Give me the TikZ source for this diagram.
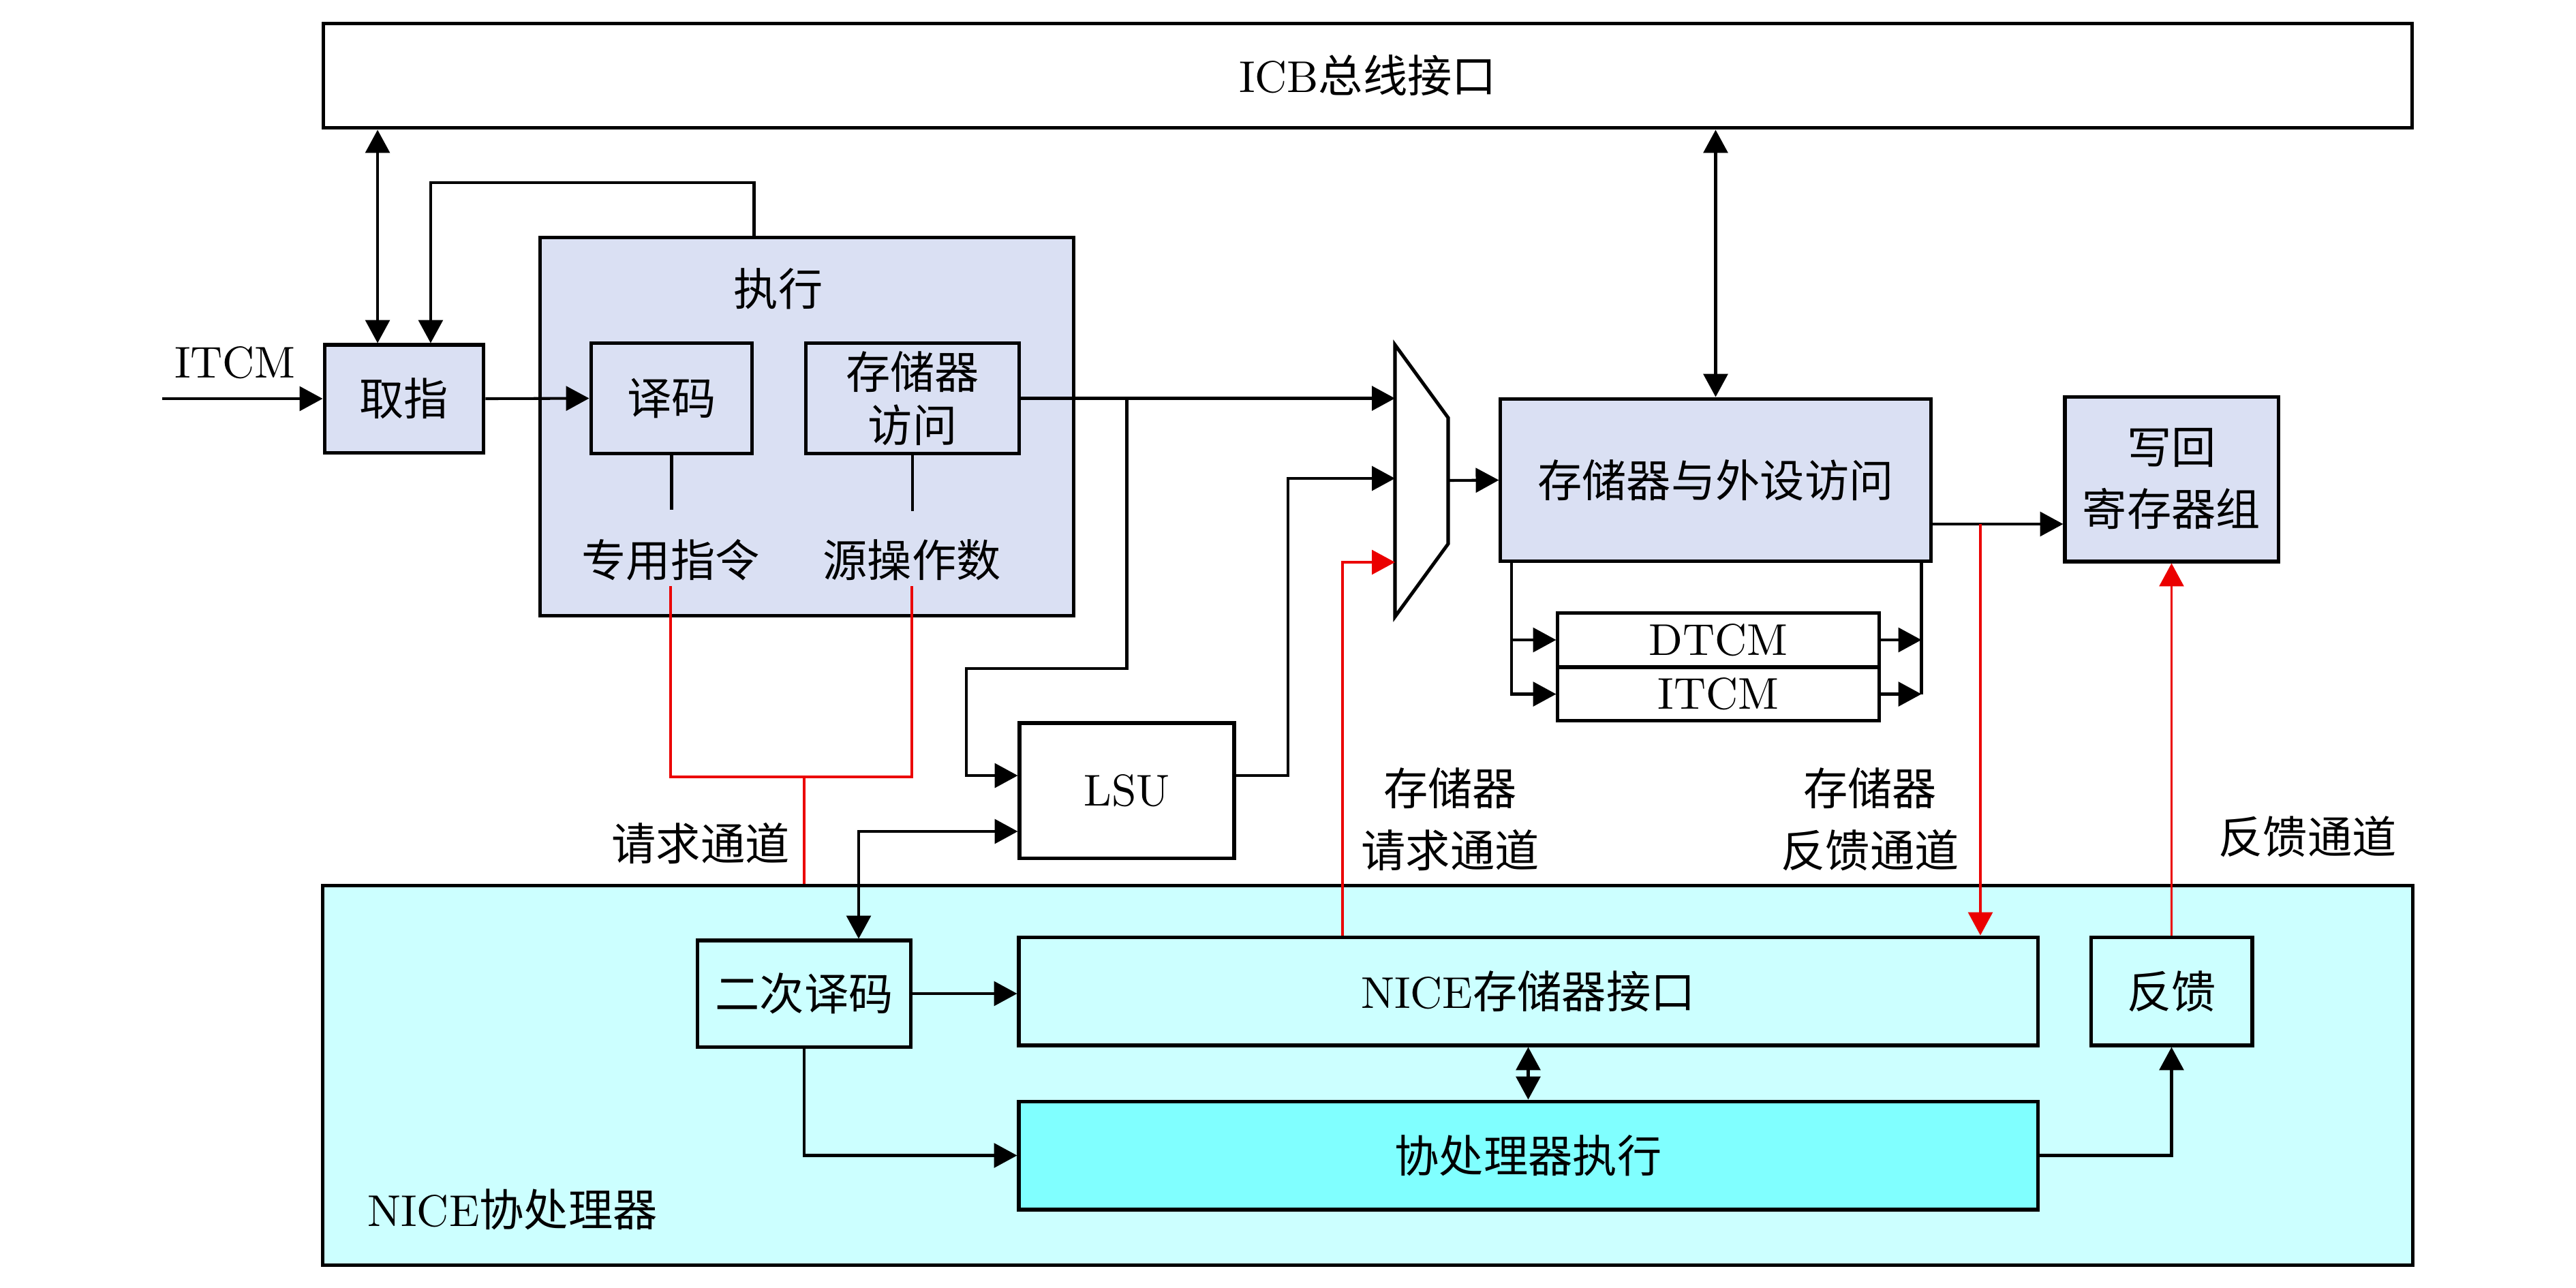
\documentclass[tikz,border=0pt]{standalone}
\usepackage{fontspec}
\usepackage{tikz}
\usetikzlibrary{arrows.meta,positioning,calc}
\newfontfamily\cjkfont{Noto Sans CJK SC}
\newcommand{\zh}[1]{{\cjkfont #1}}
\definecolor{exfill}{RGB}{218,224,243}
\definecolor{nicefill}{RGB}{204,255,255}
\definecolor{cpxfill}{RGB}{128,255,255}
\definecolor{chred}{RGB}{235,0,0}
\tikzset{
  blk/.style={draw, line width=0.8pt, fill=exfill, align=center, inner sep=1pt},
  nblk/.style={blk, fill=nicefill},
  wblk/.style={blk, fill=white},
  arr/.style={-{Triangle[length=1.9mm,width=2mm]}, line width=0.65pt},
  dar/.style={{Triangle[length=1.9mm,width=2mm]}-{Triangle[length=1.9mm,width=2mm]}, line width=0.65pt},
  ln/.style={line width=0.65pt},
  req/.style={chred, line width=0.6pt},
  reqa/.style={req, -{Triangle[length=1.9mm,width=2mm]}},
  lbl/.style={align=center, inner sep=1pt},
}

\begin{document}
\begin{tikzpicture}[x=0.56cm, y=-0.56cm, font=\fontsize{10.4}{12.5}\selectfont]
\useasboundingbox (0,0) rectangle (37.8,18.9);
%---- bus and core pipeline
\node[wblk, minimum width=17.16cm, minimum height=0.862cm] (icb) at (20.07,1.11) {ICB\zh{总线接口}};
\node[blk, minimum width=4.38cm, minimum height=3.108cm] (exec) at (11.84,6.255) {};
\node[lbl] (exlb) at (11.42,4.24) {\zh{执行}};
\node[blk, minimum width=1.31cm, minimum height=0.885cm] (fetch) at (5.93,5.85) {\zh{取指}};
\node[blk, minimum width=1.327cm, minimum height=0.902cm] (dec) at (9.855,5.845) {\zh{译码}};
\node[blk, minimum width=1.758cm, minimum height=0.902cm] (mema) at (13.39,5.845) {\zh{存储器}\\\zh{访问}};
\node[lbl] (spi) at (9.84,8.22) {\zh{专用指令}};
\node[lbl] (sop) at (13.38,8.22) {\zh{源操作数}};
\node[wblk, minimum width=1.764cm, minimum height=1.109cm] (lsu) at (16.535,11.6) {LSU};
\node[blk, minimum width=3.534cm, minimum height=1.338cm] (memper) at (25.175,7.045) {\zh{存储器与外设访问}};
\node[blk, minimum width=1.753cm, minimum height=1.355cm] (wb) at (31.865,7.03) {\zh{写回}\\[2pt]\zh{寄存器组}};
\node[wblk, minimum width=2.638cm, minimum height=0.44cm] (dtcm) at (25.215,9.39) {DTCM};
\node[wblk, minimum width=2.638cm, minimum height=0.44cm] (itcm) at (25.215,10.185) {ITCM};
%---- NICE coprocessor
\node[nblk, minimum width=17.17cm, minimum height=3.119cm] (nice) at (20.07,15.775) {};
\node[lbl] (nicelb) at (7.52,17.75) {NICE\zh{协处理器}};
\node[nblk, minimum width=1.758cm, minimum height=0.874cm] (dec2) at (11.80,14.58) {\zh{二次译码}};
\node[nblk, minimum width=8.372cm, minimum height=0.89cm] (nmi) at (22.425,14.545) {NICE\zh{存储器接口}};
\node[blk, fill=cpxfill, minimum width=8.372cm, minimum height=0.89cm] (cpx) at (22.425,16.955) {\zh{协处理器执行}};
\node[nblk, minimum width=1.327cm, minimum height=0.89cm] (fb) at (31.865,14.545) {\zh{反馈}};
%---- channel labels
\node[lbl] (reqlb) at (10.28,12.38) {\zh{请求通道}};
\node[lbl] (mreqlb) at (21.28,12.02) {\zh{存储器}\\[2pt]\zh{请求通道}};
\node[lbl] (mfblb) at (27.44,12.02) {\zh{存储器}\\[2pt]\zh{反馈通道}};
\node[lbl] (fblb) at (33.86,12.28) {\zh{反馈通道}};
%---- mux
\coordinate (mx1) at (20.47,5.06);
\coordinate (mx2) at (21.25,6.13);
\coordinate (mx3) at (21.25,7.98);
\coordinate (mx4) at (20.47,9.05);
\draw[line width=0.8pt] (mx1) -- (mx2) -- (mx3) -- (mx4) -- cycle;
\coordinate (in2) at (20.47,7.02);
\coordinate (in3) at (20.47,8.25);
\coordinate (mxo) at (21.25,7.05);
%---- front end
\coordinate (itcmin) at (2.38,5.85);
\node[lbl] (itcmlb) at (3.45,5.32) {ITCM};
\draw[arr] (itcmin) -- (fetch.west);
\coordinate (fa) at ([xshift=-0.218cm]fetch.north);
\coordinate (fb2) at ([xshift=0.218cm]fetch.north);
\draw[dar] (fa) -- (fa |- icb.south);
\draw[arr] (dec.east |- exec.north) -- (dec.east |- 0,2.68) -| (fb2);
\draw[arr] (fetch.east) -- (dec.west);
\draw[ln] (dec.south) -- ++(0,0.8);
\draw[ln] (mema.south) -- ++(0,0.82);
\draw[req] (spi.south) |- (sop.south |- 0,11.40) -- (sop.south);
\draw[req] (dec2.north |- 0,11.40) -- (dec2.north |- nice.north);
%---- memory path
\draw[arr] (mema.east) -- (mema.east -| mx1);
\draw[arr] (mxo) -- (memper.west);
\coordinate (la) at ([yshift=0.123cm]lsu.west);
\coordinate (lb) at ([yshift=-0.336cm]lsu.west);
\coordinate (lc) at ([yshift=0.123cm]lsu.east);
\coordinate (d2a) at ([xshift=0.448cm]dec2.north);
\draw[arr] (lsu.north |- mema.east) |- (14.18,9.81) |- (la);
\draw[arr] (lc) -| (18.90,7.02) -- (in2);
\draw[dar] (lb) -| (d2a);
\draw[reqa] (nmi.north -| 19.70,0) |- (in3);
\draw[dar] (memper.north |- icb.south) -- (memper.north);
\coordinate (mo) at ([yshift=-0.361cm]memper.east);
\draw[arr] (mo) -- (mo -| wb.west);
\draw[reqa] (mo -| 29.06,0) -- (nmi.north -| 29.06,0);
\coordinate (ml) at ([xshift=0.106cm]memper.south west);
\coordinate (mr) at ([xshift=-0.09cm]memper.south east);
\draw[arr] (ml) |- (itcm.west);
\draw[arr] (dtcm.west -| ml) -- (dtcm.west);
\draw[ln] (mr) -- (mr |- itcm.east);
\draw[arr] (dtcm.east) -- (dtcm.east -| mr);
\draw[arr] (itcm.east) -- (itcm.east -| mr);
%---- inside NICE
\draw[arr] (dec2.east) -- (dec2.east -| nmi.west);
\draw[arr] (dec2.south) |- (cpx.west);
\draw[dar] (nmi.south) -- (cpx.north);
\draw[arr] (cpx.east) -| (fb.south);
\draw[reqa] (fb.north) -- (wb.south);
\end{tikzpicture}
\end{document}
